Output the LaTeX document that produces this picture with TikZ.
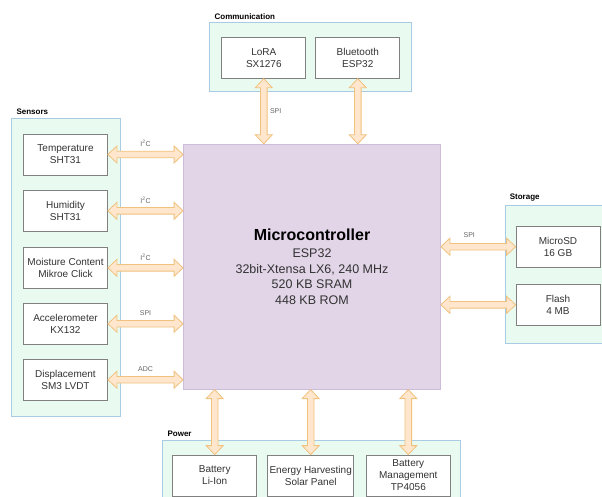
\documentclass[tikz,border=0pt]{standalone}
\usepackage{fontspec}
\setmainfont{Liberation Sans}
\usepackage{tikz}
\usetikzlibrary{calc}
\definecolor{grpfill}{HTML}{E9FAF0}
\definecolor{grpdraw}{HTML}{A9CBE3}
\definecolor{boxdraw}{HTML}{808080}
\definecolor{mcufill}{HTML}{E1D5E7}
\definecolor{mcudraw}{HTML}{CDBCDA}
\definecolor{arrfill}{HTML}{FFE6CC}
\definecolor{arrdraw}{HTML}{F0C27E}
\definecolor{txt}{HTML}{333333}
\definecolor{soft}{HTML}{666666}
\tikzset{
  group/.style={draw=grpdraw, fill=grpfill, line width=0.8pt, inner sep=0pt},
  grplab/.style={anchor=south west, inner sep=0pt, font=\fontsize{8}{9}\selectfont\bfseries, xshift=5pt, yshift=3pt},
  unit/.style={draw=boxdraw, fill=white, line width=0.8pt, minimum width=84pt, minimum height=41pt,
    inner sep=0pt, align=center, text=txt, font=\fontsize{10}{12}\selectfont},
  mcu/.style={draw=mcudraw, fill=mcufill, line width=0.8pt, minimum width=257pt, minimum height=245pt,
    inner sep=0pt, align=center, text=txt, font=\fontsize{12.5}{15.5}\selectfont},
  flex/.style={draw=arrdraw, fill=arrfill, line width=0.8pt, line join=miter},
  buslab/.style={text=soft, inner sep=0pt, font=\fontsize{7}{8}\selectfont},
}
% hollow double arrow between two points
\newcommand{\biarrow}[2]{%
  \filldraw[flex] (#1)
    -- ($(#1)!9pt!(#2)!8.5pt!90:(#2)$) -- ($(#1)!9pt!(#2)!3.3pt!90:(#2)$)
    -- ($(#2)!9pt!(#1)!3.3pt!-90:(#1)$) -- ($(#2)!9pt!(#1)!8.5pt!-90:(#1)$)
    -- (#2)
    -- ($(#2)!9pt!(#1)!8.5pt!90:(#1)$) -- ($(#2)!9pt!(#1)!3.3pt!90:(#1)$)
    -- ($(#1)!9pt!(#2)!3.3pt!-90:(#2)$) -- ($(#1)!9pt!(#2)!8.5pt!-90:(#2)$)
    -- cycle;}

\begin{document}
\begin{tikzpicture}[x=1pt, y=-1pt]
  \useasboundingbox (0,0) rectangle (602,497);
  \fill[white] (0,0) rectangle (602,497);
  \clip (0,0) rectangle (602,497);

  % groups
  \node[group, minimum width=202pt, minimum height=69pt] (comm) at (310.8,57.3) {};
  \node[group, minimum width=109pt, minimum height=298pt] (sens) at (66.2,267.5) {};
  \node[group, minimum width=107pt, minimum height=138pt] (stor) at (558.5,274.2) {};
  \node[group, minimum width=298pt, minimum height=70pt] (pow) at (311.8,475) {};
  \node[grplab] (commlab) at (comm.north west) {Communication};
  \node[grplab] (senslab) at (sens.north west) {Sensors};
  \node[grplab] (storlab) at (stor.north west) {Storage};
  \node[grplab] (powlab) at (pow.north west) {Power};

  % microcontroller
  \node[mcu] (mcu) at (312,266.7) {{\fontsize{16}{19}\selectfont\bfseries\color{black}Microcontroller}\\[1.6pt]
    ESP32\\32bit-Xtensa LX6, 240 MHz\\520 KB SRAM\\448 KB ROM};

  % communication
  \node[unit] (lora) at (263.8,57.8) {LoRA\\SX1276};
  \node[unit] (bt) at (357.8,57.8) {Bluetooth\\ESP32};

  % sensors
  \node[unit] (temp) at (65.5,154.5) {Temperature\\SHT31};
  \node[unit] (hum) at (65.5,210.8) {Humidity\\SHT31};
  \node[unit] (moist) at (65.5,267.8) {Moisture Content\\Mikroe Click};
  \node[unit] (acc) at (65.5,323.7) {Accelerometer\\KX132};
  \node[unit] (disp) at (65.5,379.7) {Displacement\\SM3 LVDT};

  % storage
  \node[unit] (sd) at (558,246.7) {MicroSD\\16 GB};
  \node[unit] (flash) at (558,304.8) {Flash\\4 MB};

  % power
  \node[unit] (bat) at (214.7,475.5) {Battery\\Li-Ion};
  \node[unit, minimum width=86pt] (harv) at (310.7,475.5) {Energy Harvesting\\Solar Panel};
  \node[unit] (bms) at (408.3,475.5) {Battery\\Management\\TP4056};

  % links
  \biarrow{lora.south}{lora.south |- mcu.north}
  \biarrow{bt.south}{bt.south |- mcu.north}
  \biarrow{temp.east}{temp.east -| mcu.west}
  \biarrow{hum.east}{hum.east -| mcu.west}
  \biarrow{moist.east}{moist.east -| mcu.west}
  \biarrow{acc.east}{acc.east -| mcu.west}
  \biarrow{disp.east}{disp.east -| mcu.west}
  \biarrow{sd.west -| mcu.east}{sd.west}
  \biarrow{flash.west -| mcu.east}{flash.west}
  \biarrow{bat.north |- mcu.south}{bat.north}
  \biarrow{harv.north |- mcu.south}{harv.north}
  \biarrow{bms.north |- mcu.south}{bms.north}

  % bus labels
  \node[buslab, anchor=west, xshift=6pt] (lorabus) at ($(lora.south)!0.5!(lora.south |- mcu.north)$) {SPI};
  \node[buslab, yshift=11pt] (tempbus) at ($(temp.east)!0.5!(temp.east -| mcu.west)$) {I\textsuperscript{2}C};
  \node[buslab, yshift=11pt] (humbus) at ($(hum.east)!0.5!(hum.east -| mcu.west)$) {I\textsuperscript{2}C};
  \node[buslab, yshift=11pt] (moistbus) at ($(moist.east)!0.5!(moist.east -| mcu.west)$) {I\textsuperscript{2}C};
  \node[buslab, yshift=11pt] (accbus) at ($(acc.east)!0.5!(acc.east -| mcu.west)$) {SPI};
  \node[buslab, yshift=11pt] (dispbus) at ($(disp.east)!0.5!(disp.east -| mcu.west)$) {ADC};
  \node[buslab, yshift=12pt, xshift=-9pt] (sdbus) at ($(sd.west -| mcu.east)!0.5!(sd.west)$) {SPI};
\end{tikzpicture}
\end{document}
